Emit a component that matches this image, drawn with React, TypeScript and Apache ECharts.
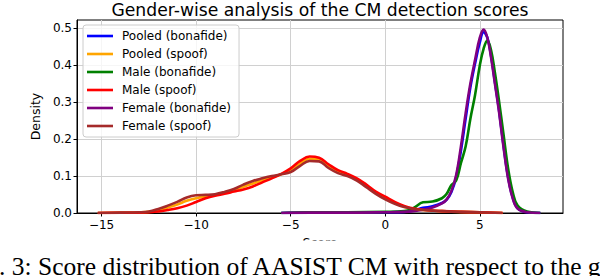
import React, { useEffect, useRef } from "react";
import * as echarts from "echarts";

// ---- data ----
const seriesNames = [
  "Pooled (bonafide)",
  "Pooled (spoof)",
  "Male (bonafide)",
  "Male (spoof)",
  "Female (bonafide)",
  "Female (spoof)",
];
const seriesColors = ["#0000ff", "#ffa500", "#008000", "#ff0000", "#800080", "#a52a2a"];

const xTicks = [-15, -10, -5, 0, 5];
const yTicks = [0, 0.1, 0.2, 0.3, 0.4, 0.5];

// spoof score grid
const spoofX = [-15.2, -14, -13, -12.5, -12, -11.5, -11, -10.5, -10, -9.5, -9, -8.5, -8, -7.5, -7, -6.5, -6, -5.5, -5, -4.5, -4, -3.5, -3, -2.5, -2, -1.5, -1, -0.5, 0, 0.5, 1, 1.5, 2, 3, 4, 5, 6.2];
const pooledSpoof = [0, 0.001, 0.0015, 0.003, 0.008, 0.015, 0.023, 0.033, 0.04, 0.045, 0.049, 0.055, 0.062, 0.071, 0.08, 0.089, 0.097, 0.105, 0.115, 0.134, 0.147, 0.145, 0.127, 0.112, 0.103, 0.091, 0.073, 0.055, 0.04, 0.027, 0.017, 0.011, 0.008, 0.005, 0.003, 0.002, 0];
const maleSpoof = [0, 0.0005, 0.001, 0.002, 0.004, 0.008, 0.013, 0.02, 0.03, 0.04, 0.047, 0.052, 0.058, 0.064, 0.072, 0.083, 0.094, 0.106, 0.121, 0.141, 0.153, 0.15, 0.132, 0.116, 0.106, 0.094, 0.077, 0.058, 0.044, 0.03, 0.019, 0.012, 0.009, 0.005, 0.003, 0.002, 0];
const femaleSpoof = [0, 0.001, 0.002, 0.004, 0.011, 0.02, 0.03, 0.042, 0.048, 0.049, 0.051, 0.057, 0.065, 0.077, 0.087, 0.094, 0.1, 0.105, 0.111, 0.128, 0.141, 0.14, 0.122, 0.108, 0.1, 0.088, 0.07, 0.052, 0.037, 0.025, 0.016, 0.011, 0.008, 0.005, 0.003, 0.002, 0];

// bonafide score grid
const bonaX = [-5.5, -4, -2, 0, 1, 1.5, 2, 2.5, 3, 3.25, 3.5, 3.75, 4, 4.25, 4.5, 4.75, 5, 5.2, 5.4, 5.6, 5.8, 6, 6.25, 6.5, 6.75, 7, 7.5, 8.2];
const pooledBona = [0, 0.001, 0.001, 0.002, 0.003, 0.007, 0.014, 0.018, 0.027, 0.036, 0.057, 0.097, 0.168, 0.255, 0.34, 0.405, 0.462, 0.49, 0.475, 0.425, 0.355, 0.285, 0.185, 0.096, 0.04, 0.013, 0.002, 0];
const maleBona = [0, 0.002, 0.002, 0.003, 0.005, 0.014, 0.029, 0.031, 0.04, 0.052, 0.076, 0.088, 0.135, 0.18, 0.255, 0.32, 0.4, 0.445, 0.467, 0.44, 0.38, 0.31, 0.215, 0.12, 0.055, 0.02, 0.004, 0];
const femaleBona = [0, 0.001, 0.001, 0.002, 0.003, 0.005, 0.009, 0.015, 0.026, 0.037, 0.06, 0.103, 0.18, 0.27, 0.35, 0.415, 0.475, 0.497, 0.475, 0.42, 0.35, 0.28, 0.18, 0.092, 0.038, 0.012, 0.002, 0];

const titleText = "Gender-wise analysis of the CM detection scores";
const captionText = "Fig. 3: Score distribution of AASIST CM with respect to the gender of the speakers";

const FONT = "DejaVu Sans";

function zip(xs: number[], ys: number[]) {
  return xs.map((x, i) => [x, ys[i]]);
}

export default function App() {
  const ref = useRef<HTMLDivElement>(null);
  useEffect(() => {
    if (!ref.current) return;
    const chart = echarts.init(ref.current, null, { renderer: "svg" });
    const dataSets = [
      zip(bonaX, pooledBona),
      zip(spoofX, pooledSpoof),
      zip(bonaX, maleBona),
      zip(spoofX, maleSpoof),
      zip(bonaX, femaleBona),
      zip(spoofX, femaleSpoof),
    ];
    const series = seriesNames.map((name, i) => ({
      name,
      type: "line",
      data: dataSets[i],
      smooth: 0.4,
      showSymbol: false,
      symbol: "none",
      lineStyle: { color: seriesColors[i], width: 2.6 },
      itemStyle: { color: seriesColors[i] },
      z: 2 + i,
    }));
    chart.setOption({
      animation: false,
      textStyle: { fontFamily: FONT },
      grid: {
        left: 77,
        right: 37,
        top: 20,
        bottom: 63,
        show: true,
        borderColor: "#000",
        borderWidth: 1,
        containLabel: false,
      },
      legend: {
        orient: "vertical",
        left: 83,
        top: 25,
        data: seriesNames.map((n) => ({ name: n, icon: "rect" })),
        itemWidth: 26,
        itemHeight: 2.6,
        itemGap: 6,
        padding: [5, 8, 5, 4],
        backgroundColor: "rgba(255,255,255,0.8)",
        borderColor: "#cccccc",
        borderWidth: 1,
        borderRadius: 3,
        textStyle: { fontFamily: FONT, fontSize: 12, color: "#000", lineHeight: 12, padding: [0, 0, 0, 4] },
      },
      xAxis: {
        type: "value",
        min: -16.3,
        max: 9.4,
        splitNumber: 5,
        name: "Score",
        nameLocation: "middle",
        nameGap: 22,
        nameTextStyle: { fontFamily: FONT, fontSize: 12.5, color: "#000" },
        axisLine: { show: true, onZero: false, lineStyle: { color: "#000", width: 1 } },
        axisTick: { show: true, length: 3.5, customValues: xTicks, lineStyle: { color: "#000" } },
        axisLabel: {
          customValues: xTicks,
          fontFamily: FONT,
          fontSize: 12,
          color: "#000",
          margin: 6,
          formatter: (v: number) => (v < 0 ? "\u2212" + Math.abs(v) : String(v)),
        },
        splitLine: { show: true, lineStyle: { color: "#d0d0d0", width: 1 } },
      },
      yAxis: {
        type: "value",
        min: 0,
        max: 0.523,
        splitNumber: 5,
        name: "Density",
        nameLocation: "middle",
        nameGap: 29,
        nameTextStyle: { fontFamily: FONT, fontSize: 12.5, color: "#000" },
        axisLine: { show: true, onZero: false, lineStyle: { color: "#000", width: 1 } },
        axisTick: { show: true, length: 3.5, customValues: yTicks, lineStyle: { color: "#000" } },
        axisLabel: {
          customValues: yTicks,
          fontFamily: FONT,
          fontSize: 12,
          color: "#000",
          margin: 5,
          formatter: (v: number) => v.toFixed(1),
        },
        splitLine: { show: true, lineStyle: { color: "#d0d0d0", width: 1 } },
      },
      series,
      graphic: [
        {
          type: "text",
          x: 320,
          y: 9.5,
          style: {
            text: titleText,
            fontFamily: FONT,
            fontSize: 17.2,
            fill: "#000",
            textAlign: "center",
            textVerticalAlign: "middle",
          },
          z: 100,
        },
        {
          type: "rect",
          shape: { x: 0, y: 240.5, width: 600, height: 40 },
          style: { fill: "#fff" },
          z: 100,
        },
        {
          type: "text",
          x: -35,
          y: 266,
          style: {
            text: captionText,
            fontFamily: "Liberation Serif",
            fontSize: 25.5,
            fill: "#000",
            textAlign: "left",
            textVerticalAlign: "middle",
          },
          z: 101,
        },
      ],
    });
    return () => chart.dispose();
  }, []);
  return <div ref={ref} style={{ width: 600, height: 276, position: "absolute", left: 0, top: 0 }} />;
}
